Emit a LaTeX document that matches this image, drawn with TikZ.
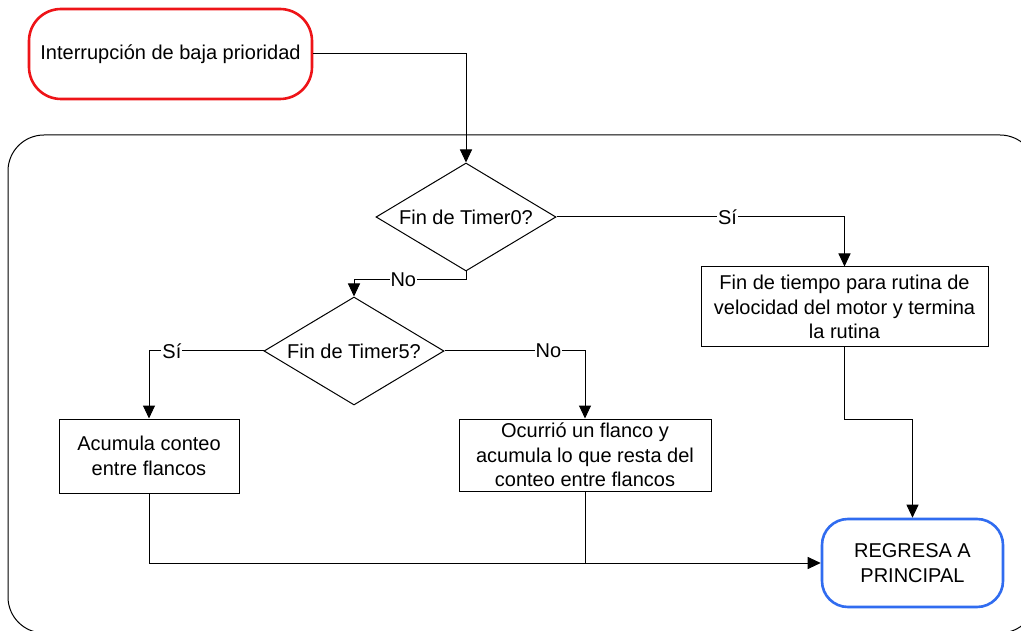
\documentclass[tikz,border=0pt]{standalone}
\usepackage{fontspec}
\setmainfont{Liberation Sans}
\usetikzlibrary{shapes.geometric,arrows.meta}
\definecolor{termred}{RGB}{238,20,24}
\definecolor{termblue}{RGB}{48,108,240}
\begin{document}
\begin{tikzpicture}[x=1pt,y=-1pt,
  every node/.style={font=\fontsize{20}{24.5}\selectfont},
  flow/.style={line width=1pt,draw=black},
  arr/.style={flow,-{Triangle[length=13pt,width=12pt]}},
  terminal/.style={draw,rounded corners=#1,line width=2.6pt,align=center,inner sep=0pt},
  process/.style={draw,line width=1pt,align=center,inner sep=0pt},
  decision/.style={draw,line width=1pt,diamond,aspect=1.667,inner sep=0pt,
    minimum width=180pt,minimum height=108pt},
  lbl/.style={fill=white,inner sep=1pt}]
\clip (0,0) rectangle (1021,631);
\fill[white] (0,0) rectangle (1021,631);

% enclosing frame of the routine
\draw[line width=1pt,rounded corners=36pt] (8,135) rectangle (1036,633);

% terminals
\node[terminal=32pt,draw=termred,minimum width=283pt,minimum height=90pt] (start) at (170.5,54) {Interrupción de baja prioridad};
\node[terminal=26pt,draw=termblue,minimum width=181pt,minimum height=88pt] (end) at (912.5,563) {REGRESA A\\PRINCIPAL};

% decisions
\node[decision] (d1) at (466,217) {Fin de Timer0?};
\node[decision] (d2) at (354,351) {Fin de Timer5?};

% process boxes
\node[process,minimum width=287pt,minimum height=80pt] (tr) at (844.5,307)
  {Fin de tiempo para rutina de\\velocidad del motor y termina\\la rutina};
\node[process,minimum width=180pt,minimum height=74pt] (acc) at (149,456)
  {Acumula conteo\\entre flancos};
\node[process,minimum width=252pt,minimum height=72pt] (ocu) at (585,455)
  {Ocurrió un flanco y\\acumula lo que resta del\\conteo entre flancos};

% connectors
\draw[arr] (d1.south) -- ++(0,8) -| node[lbl,pos=0.28] (no1) {No} (d2.north);
\draw[arr] (start.east) -| (d1.north);
\draw[arr] (d1.east) -| node[lbl,pos=0.297] (si1) {Sí} (tr.north);
\draw[arr] (d2.west) -| node[lbl,pos=0.40] (si2) {Sí} (acc.north);
\draw[arr] (d2.east) -| node[lbl,pos=0.37] (no2) {No} (ocu.north);
\draw[arr] (acc.south) |- (end.west);
\draw[flow] (ocu.south) -- (ocu.south |- end.west);
\draw[arr] (tr.south) -- ++(0,72) -| (end.north);
\end{tikzpicture}
\end{document}
